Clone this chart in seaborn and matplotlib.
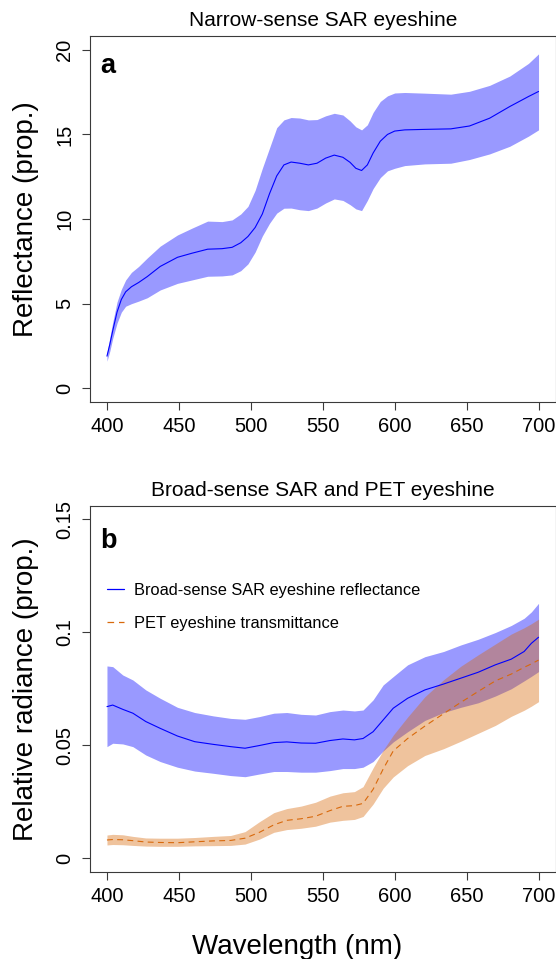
import matplotlib
matplotlib.use("Agg")
import matplotlib.pyplot as plt
from matplotlib.lines import Line2D
import seaborn as sns

# ---- Panel a: narrow-sense SAR eyeshine reflectance (mean and band) ----
wl_a = [400, 402, 404, 407, 410, 413, 417, 422, 428, 437, 449, 459, 470, 480, 487,
        493, 498, 503, 508, 513, 518, 523, 528, 534, 540, 546, 552, 558, 564, 569,
        573, 577, 581, 585, 590, 595, 600, 607, 621, 639, 652, 666, 680, 693, 700]
sar_mean = [1.9, 2.6, 3.4, 4.5, 5.25, 5.7, 6.0, 6.25, 6.6, 7.2, 7.74, 7.98, 8.22, 8.25, 8.33,
            8.6, 8.97, 9.5, 10.3, 11.5, 12.55, 13.2, 13.37, 13.3, 13.2, 13.3, 13.6, 13.78, 13.65, 13.35,
            13.0, 12.87, 13.2, 13.9, 14.6, 15.0, 15.2, 15.27, 15.3, 15.33, 15.5, 15.96, 16.65, 17.24, 17.54]
sar_upper = [2.1, 3.0, 3.9, 5.1, 5.85, 6.4, 6.85, 7.2, 7.7, 8.4, 9.06, 9.46, 9.88, 9.85, 9.95,
             10.3, 10.75, 11.7, 13.0, 14.2, 15.4, 15.86, 16.0, 15.97, 15.86, 15.88, 16.1, 16.25, 16.15, 15.8,
             15.45, 15.27, 15.57, 16.3, 16.95, 17.28, 17.45, 17.48, 17.44, 17.38, 17.55, 17.9, 18.45, 19.2, 19.76]
sar_lower = [1.6, 2.2, 2.95, 3.85, 4.5, 4.85, 5.0, 5.15, 5.35, 5.81, 6.2, 6.4, 6.62, 6.64, 6.7,
             6.95, 7.35, 8.05, 9.0, 9.75, 10.35, 10.64, 10.65, 10.55, 10.5, 10.65, 10.95, 11.19, 11.1, 10.85,
             10.6, 10.5, 11.1, 11.8, 12.45, 12.85, 13.0, 13.16, 13.26, 13.3, 13.52, 13.85, 14.3, 14.9, 15.27]

# ---- Panel b: broad-sense SAR reflectance and PET transmittance ----
wl_b = [400, 404, 411, 418, 427, 437, 449, 461, 474, 486, 496, 506, 516, 525, 535,
        545, 555, 564, 572, 578, 585, 592, 599, 609, 621, 634, 646, 658, 670, 681,
        690, 695, 700]
broad_mean = [0.0671, 0.0678, 0.0659, 0.0642, 0.0605, 0.0575, 0.0541, 0.0516, 0.0504, 0.0494,
              0.0487, 0.0499, 0.0512, 0.0515, 0.0510, 0.0509, 0.0521, 0.0528, 0.0524, 0.0530,
              0.0560, 0.0612, 0.0664, 0.0708, 0.0745, 0.0771, 0.0797, 0.0823, 0.0856, 0.0881,
              0.0915, 0.0951, 0.0978]
broad_upper = [0.0851, 0.0848, 0.0811, 0.0789, 0.0745, 0.0708, 0.0668, 0.0645, 0.0630, 0.0619,
               0.0615, 0.0627, 0.0642, 0.0645, 0.0637, 0.0634, 0.0649, 0.0656, 0.0652, 0.0656,
               0.0701, 0.0767, 0.0804, 0.0856, 0.0892, 0.0915, 0.0944, 0.0969, 0.0999, 0.1030,
               0.1062, 0.1090, 0.1128]
broad_lower = [0.0494, 0.0509, 0.0506, 0.0494, 0.0457, 0.0428, 0.0403, 0.0386, 0.0376, 0.0366,
               0.0361, 0.0373, 0.0384, 0.0384, 0.0381, 0.0381, 0.0388, 0.0397, 0.0397, 0.0403,
               0.0428, 0.0475, 0.0515, 0.0560, 0.0610, 0.0645, 0.0668, 0.0688, 0.0718, 0.0750,
               0.0785, 0.0805, 0.0826]
pet_mean = [0.0081, 0.0083, 0.0082, 0.0078, 0.0072, 0.0070, 0.0069, 0.0073, 0.0077, 0.0079,
            0.0089, 0.0115, 0.0148, 0.0168, 0.0175, 0.0186, 0.0211, 0.0230, 0.0233, 0.0243,
            0.0305, 0.0395, 0.0475, 0.0530, 0.0585, 0.0640, 0.0690, 0.0738, 0.0785, 0.0815,
            0.0845, 0.0860, 0.0877]
pet_upper = [0.0103, 0.0106, 0.0104, 0.0097, 0.0090, 0.0089, 0.0089, 0.0092, 0.0097, 0.0101,
             0.0118, 0.0162, 0.0202, 0.0220, 0.0231, 0.0248, 0.0275, 0.0290, 0.0295, 0.0317,
             0.0400, 0.0478, 0.0545, 0.0625, 0.0715, 0.0790, 0.0850, 0.0900, 0.0948, 0.0992,
             0.1020, 0.1038, 0.1058]
pet_lower = [0.0059, 0.0061, 0.0060, 0.0057, 0.0054, 0.0053, 0.0053, 0.0055, 0.0056, 0.0057,
             0.0063, 0.0085, 0.0115, 0.0127, 0.0133, 0.0142, 0.0160, 0.0168, 0.0172, 0.0185,
             0.0240, 0.0310, 0.0360, 0.0410, 0.0455, 0.0485, 0.0518, 0.0553, 0.0588, 0.0628,
             0.0655, 0.0673, 0.0693]

x_ticks = [400, 450, 500, 550, 600, 650, 700]
ya_ticks = [0, 5, 10, 15, 20]
ya_labels = ["0", "5", "10", "15", "20"]
yb_ticks = [0, 0.05, 0.1, 0.15]
yb_labels = ["0", "0.05", "0.1", "0.15"]

legend_labels = ["Broad-sense SAR eyeshine reflectance", "PET eyeshine transmittance"]

# ---- style ----
sns.set_style("ticks")
plt.rcParams["font.family"] = ["Liberation Sans", "DejaVu Sans"]
plt.rcParams["text.color"] = "black"
plt.rcParams["axes.labelcolor"] = "black"

BLUE = "#0000FF"
ORANGE = "#D8690C"
AXIS_COL = "#3a3a3a"
DASH = (0, (5.3, 3.9))

W, H = 556, 959
fig = plt.figure(figsize=(W / 100, H / 100), dpi=100)


def px_axes(left, top, right, bottom):
    return fig.add_axes([left / W, 1 - bottom / H, (right - left) / W, (bottom - top) / H])


ax_a = px_axes(89.7, 36.3, 555.8, 402.0)
ax_b = px_axes(89.7, 505.7, 555.8, 872.0)


def style_axis(ax, yticks, ylabels):
    ax.set_xlim(388, 712)
    ax.set_xticks(x_ticks)
    ax.set_xticklabels([str(t) for t in x_ticks])
    ax.set_yticks(yticks)
    ax.set_yticklabels(ylabels)
    for s in ax.spines.values():
        s.set_visible(True)
        s.set_color(AXIS_COL)
        s.set_linewidth(0.8)
    ax.tick_params(axis="both", direction="out", length=6, width=0.8,
                   color=AXIS_COL, labelsize=14.5, pad=5, labelcolor="black")
    ax.tick_params(axis="y", labelrotation=90)
    for lab in ax.get_yticklabels():
        lab.set_va("center")
    ax.set_xlabel("")


# ---- panel a ----
ax_a.fill_between(wl_a, sar_lower, sar_upper, color=BLUE, alpha=0.4, lw=0)
sns.lineplot(x=wl_a, y=sar_mean, ax=ax_a, color=BLUE, lw=0.8)
ax_a.set_ylim(-0.81, 20.8)
style_axis(ax_a, ya_ticks, ya_labels)
ax_a.set_title("Narrow-sense SAR eyeshine", fontsize=15, pad=7.4, color="black")
ax_a.set_ylabel("Reflectance (prop.)", fontsize=20, va="center")
ax_a.yaxis.set_label_coords(-0.1357, 0.5)
ax_a.text(0.0232, 0.899, "a", transform=ax_a.transAxes, fontsize=19.5,
          fontweight="bold", ha="left", va="baseline", color="black")

# ---- panel b ----
ax_b.fill_between(wl_b, broad_lower, broad_upper, color=BLUE, alpha=0.4, lw=0)
ax_b.fill_between(wl_b, pet_lower, pet_upper, color=ORANGE, alpha=0.4, lw=0)
sns.lineplot(x=wl_b, y=broad_mean, ax=ax_b, color=BLUE, lw=0.8)
sns.lineplot(x=wl_b, y=pet_mean, ax=ax_b, color=ORANGE, lw=0.8, linestyle=DASH)
ax_b.set_ylim(-0.00606, 0.156)
style_axis(ax_b, yb_ticks, yb_labels)
ax_b.set_title("Broad-sense SAR and PET eyeshine", fontsize=15, pad=7.0, color="black")
ax_b.set_ylabel("Relative radiance (prop.)", fontsize=20, va="center")
ax_b.yaxis.set_label_coords(-0.1357, 0.5)
ax_b.text(0.0232, 0.8837, "b", transform=ax_b.transAxes, fontsize=19.5,
          fontweight="bold", ha="left", va="baseline", color="black")

handles = [Line2D([], [], color=BLUE, lw=0.9),
           Line2D([], [], color=ORANGE, lw=0.9, linestyle=DASH)]
leg = ax_b.legend(handles, legend_labels, loc="center left", bbox_to_anchor=(400, 0.1113),
                  bbox_transform=ax_b.transData, frameon=False, fontsize=11.8,
                  borderpad=0, borderaxespad=0, handlelength=1.02, handletextpad=0.61,
                  labelspacing=1.08)
for t in leg.get_texts():
    t.set_color("black")

fig.text(297.5 / W, 1 - 954.5 / H, "Wavelength (nm)", ha="center", va="baseline",
         fontsize=20, color="black")

fig.savefig("out.png", dpi=100)
